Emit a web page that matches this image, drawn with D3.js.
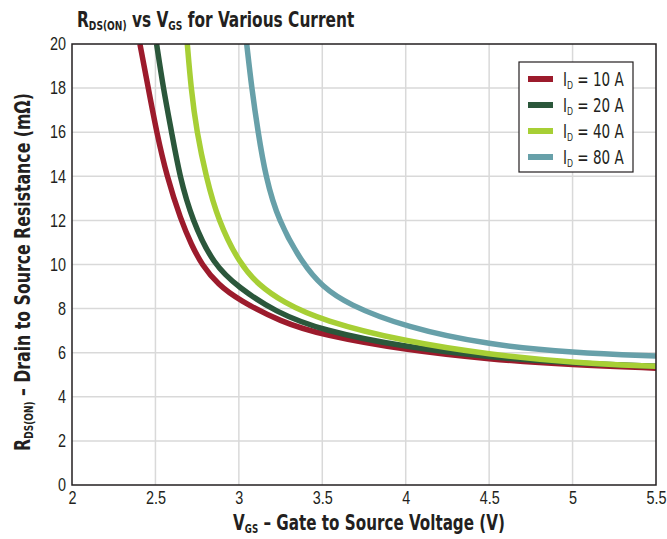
<!DOCTYPE html>
<html>
<head>
<meta charset="utf-8">
<script src="https://cdn.jsdelivr.net/npm/d3@7"></script>
<style>
  body { margin: 0; background: #fff; }
  svg { font-family: "DejaVu Sans Condensed", "Liberation Sans", sans-serif; }
</style>
</head>
<body>
<div id="chart"></div>
<script>
"use strict";
// [Vgs, Rds(on)]
const seriesNames = ["10 A", "20 A", "40 A", "80 A"];
const seriesColors = ["#9c1b2c", "#2b573b", "#a7cf35", "#67a0a9"];
const id10 = [[2.407,20],[2.457,18],[2.507,16],[2.568,14],[2.653,12],[2.717,10.88],[2.777,10],[2.877,9.07],[3.0,8.39],[3.25,7.4],[3.5,6.8],[4.0,6.12],[4.5,5.7],[5.0,5.45],[5.5,5.3]];
const id20 = [[2.507,20],[2.547,18],[2.597,16],[2.645,14],[2.721,12],[2.847,10],[3.0,8.95],[3.216,7.86],[3.5,7.0],[4.0,6.25],[4.5,5.8],[5.0,5.52],[5.5,5.38]];
const id40 = [[2.691,20],[2.713,18],[2.748,16],[2.803,14],[2.875,12],[3.007,10],[3.12,9.07],[3.26,8.31],[3.5,7.45],[4.0,6.5],[4.5,5.92],[5.0,5.55],[5.5,5.38]];
const id80 = [[3.047,20],[3.077,18],[3.115,16],[3.16,14],[3.235,12],[3.385,10],[3.5,9.0],[3.65,8.2],[4.0,7.15],[4.5,6.35],[5.0,6.0],[5.5,5.85]];
const xTicks = [2, 2.5, 3, 3.5, 4, 4.5, 5, 5.5];
const yTicks = [0, 2, 4, 6, 8, 10, 12, 14, 16, 18, 20];

const width = 667, height = 539;
const m = {left: 72, right: 11, top: 44, bottom: 54};
const ink = "#231f20";
const svg = d3.select("#chart").append("svg").attr("width", width).attr("height", height);

const x = d3.scaleLinear().domain([2, 5.5]).range([m.left, width - m.right]);
const y = d3.scaleLinear().domain([0, 20]).range([height - m.bottom, m.top]);

// squeeze a text horizontally to a given width (condensed look)
function fitWidth(text, target) {
    const w = text.node().getBBox().width;
    const k = target / w;
    const t0 = text.attr("transform") || "";
    text.attr("transform", t0 + ` scale(${k},1)`);
}

// grid
svg.append("g").selectAll("line").data(xTicks.slice(1, -1)).join("line")
    .attr("x1", d => x(d)).attr("x2", d => x(d))
    .attr("y1", y(0)).attr("y2", y(20))
    .attr("stroke", "#d9d9d9").attr("stroke-width", 1.5);
svg.append("g").selectAll("line").data(yTicks.slice(1, -1)).join("line")
    .attr("x1", x(2)).attr("x2", x(5.5))
    .attr("y1", d => y(d)).attr("y2", d => y(d))
    .attr("stroke", "#d9d9d9").attr("stroke-width", 1.5);

// axes (labels only)
const xAxis = svg.append("g").attr("transform", `translate(0,${y(0)})`)
    .call(d3.axisBottom(x).tickValues(xTicks).tickSize(0).tickPadding(6).tickFormat(d3.format("")));
const yAxis = svg.append("g").attr("transform", `translate(${x(2)},0)`)
    .call(d3.axisLeft(y).tickValues(yTicks).tickSize(0).tickPadding(6));
[xAxis, yAxis].forEach(a => {
    a.select(".domain").remove();
    a.selectAll("text").attr("font-family", null).attr("font-size", 18).attr("fill", ink);
});
xAxis.selectAll("text").each(function () { fitWidth(d3.select(this), this.getBBox().width * 0.8); });
yAxis.selectAll("text").attr("x", 0).attr("transform", "translate(-6,0) scale(0.8,1)");

// curves
svg.append("clipPath").attr("id", "plotclip").append("rect")
    .attr("x", x(2)).attr("y", y(20)).attr("width", x(5.5) - x(2)).attr("height", y(0) - y(20));
const line = d3.line().x(d => x(d[0])).y(d => y(d[1])).curve(d3.curveBasis);
const allSeries = [id10, id20, id40, id80];
svg.append("g").attr("clip-path", "url(#plotclip)")
    .selectAll("path").data(allSeries).join("path")
    .attr("d", line).attr("fill", "none")
    .attr("stroke", (d, i) => seriesColors[i]).attr("stroke-width", 5.5)
    .attr("stroke-linejoin", "round");

// frame
svg.append("rect").attr("x", x(2)).attr("y", y(20))
    .attr("width", x(5.5) - x(2)).attr("height", y(0) - y(20))
    .attr("fill", "none").attr("stroke", ink).attr("stroke-width", 1.5);

// title
const title = svg.append("text").attr("transform", "translate(77,27)")
    .attr("font-size", 22).attr("font-weight", "bold").attr("fill", ink);
title.append("tspan").text("R");
title.append("tspan").attr("font-size", 13).attr("dy", 3).text("DS(ON)");
title.append("tspan").attr("dy", -3).text(" vs V");
title.append("tspan").attr("font-size", 13).attr("dy", 3).text("GS");
title.append("tspan").attr("dy", -3).text(" for Various Current");
fitWidth(title, 278);

// x label
const xl = svg.append("text").attr("transform", "translate(369,530)").attr("text-anchor", "middle")
    .attr("font-size", 21).attr("font-weight", "bold").attr("fill", ink);
xl.append("tspan").text("V");
xl.append("tspan").attr("font-size", 12).attr("dy", 3).text("GS");
xl.append("tspan").attr("dy", -3).text(" \u2013 Gate to Source Voltage (V)");
fitWidth(xl, 272);

// y label
const yl = svg.append("text").attr("transform", `translate(30,272) rotate(-90)`)
    .attr("text-anchor", "middle")
    .attr("font-size", 21).attr("font-weight", "bold").attr("fill", ink);
yl.append("tspan").text("R");
yl.append("tspan").attr("font-size", 12).attr("dy", 3).text("DS(ON)");
yl.append("tspan").attr("dy", -3).text(" \u2013 Drain  to Source Resistance (m\u03A9)");
fitWidth(yl, 358);

// legend
const lg = svg.append("g").attr("transform", "translate(519,62)");
lg.append("rect").attr("width", 114).attr("height", 110)
    .attr("fill", "#fff").attr("stroke", ink).attr("stroke-width", 1.2);
const items = lg.selectAll("g").data(seriesNames).join("g")
    .attr("transform", (d, i) => `translate(0,${17 + i * 26})`);
items.append("line").attr("x1", 9).attr("x2", 34).attr("y1", 0).attr("y2", 0)
    .attr("stroke", (d, i) => seriesColors[i]).attr("stroke-width", 6);
items.append("text").attr("transform", "translate(44,7)")
    .attr("font-size", 19).attr("fill", ink)
    .each(function (d) {
        const t = d3.select(this);
        t.append("tspan").text("I");
        t.append("tspan").attr("font-size", 11).attr("dy", 3).text("D");
        t.append("tspan").attr("dy", -3).text(" = " + d);
        fitWidth(t, 61);
    });
</script>
</body>
</html>
